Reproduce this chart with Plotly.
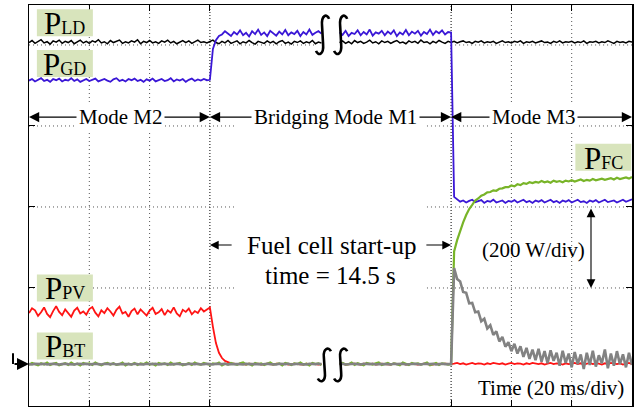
import plotly.graph_objects as go

# ---------------------------------------------------------------------------
# Oscilloscope capture: 20 ms/div time base, 200 W/div power scale.
# Samples every 1 ms; the M1 segment is cut (None) where the 14.5 s gap is.
# ---------------------------------------------------------------------------
t_ms = list(range(0, 201))

p_ld = [
    806, 811, 804, 809, 813, 805, 808, 802, 810, 807, 812, 804, 809, 806, 811, 803, 808, 812, 805, 809,
    804, 810, 807, 813, 805, 808, 803, 811, 806, 809, 812, 804, 808, 805, 810, 807, 813, 803, 809, 806,
    811, 805, 808, 804, 810, 807, 812, 805, 809, 803, 808, 811, 806, 810, 804, 809, 812, 806, 808, 805,
    808, 812, 806, 803, 809, 805, 811, 804, 807, 810, 803, 808, 805, 811, 806, 802, 809, 807, 804, 810,
    805, 809, 803, 808, 811, 804, 807, 802, 809, 806, 810, 804, 808, 805, 811, 803, 807, 805,
    None, None, None, None, None,
    806, 810, 804, 808, 803, 811, 806, 809, 804, 807, 812, 805, 808, 803, 810, 806, 809,
    804, 808, 811, 805, 807, 803, 810, 806, 809, 804, 812, 806, 808, 803, 809, 805, 811, 807, 804, 809,
    806, 809, 805, 808, 810, 806, 808, 804, 809, 807, 810, 805, 808, 806, 809, 804, 808, 810, 806, 808,
    805, 809, 807, 810, 804, 808, 806, 809, 805, 808, 810, 806, 807, 804, 809, 806, 810, 805, 808, 807,
    809, 805, 808, 806, 810, 804, 808, 807, 809, 805, 808, 806, 810, 807, 804, 809, 806, 808, 805, 809, 807,
]

p_gd = [
    712, 716, 710, 715, 718, 711, 714, 709, 716, 713, 717, 710, 714, 712, 718, 711, 715, 709, 713, 716,
    711, 714, 717, 710, 713, 716, 712, 709, 715, 718, 711, 714, 710, 716, 713, 717, 711, 714, 709, 715,
    712, 717, 710, 714, 716, 711, 713, 718, 710, 715, 712, 716, 709, 714, 717, 711, 715, 712, 716, 713,
    714, 790, 812, 822, 826, 834, 828, 822, 832, 826, 836, 824, 830, 821, 834, 827, 838, 825, 831, 822,
    835, 828, 823, 833, 826, 837, 824, 831, 827, 835, 822, 832, 826, 838, 825, 830, 834, 828,
    None, None, None, None, None,
    831, 825, 835, 822, 830, 827, 836, 824, 832, 826, 838, 823, 831, 828, 835, 824, 833,
    827, 836, 822, 831, 826, 837, 824, 833, 828, 835, 823, 832, 827, 838, 825, 834, 829, 836, 826, 832,
    831, 425, 418, 413, 416, 411, 415, 418, 412, 414, 417, 410, 415, 413, 418, 411, 414, 416, 410, 415,
    413, 417, 411, 414, 418, 412, 415, 410, 416, 413, 417, 411, 414, 418, 412, 415, 410, 416, 413, 417,
    411, 415, 418, 412, 414, 410, 416, 413, 417, 411, 415, 418, 412, 414, 416, 411, 415, 418, 413, 416, 419,
]

p_pv = [
    138, 150, 145, 131, 140, 152, 136, 128, 143, 155, 141, 133, 147, 139, 129, 144, 151, 137, 142, 134,
    148, 153, 139, 130, 145, 138, 150, 142, 132, 146, 154, 137, 141, 129, 143, 149, 135, 147, 140, 132,
    144, 151, 136, 140, 148, 133, 145, 139, 152, 137, 130, 146, 141, 149, 135, 143, 138, 150, 142, 147,
    152, 104, 64, 40, 27, 20, 16, 14, 13, 12, 13, 12, 11, 13, 12, 12, 13, 11, 12, 13,
    12, 11, 13, 12, 12, 13, 11, 12, 13, 12, 12, 11, 13, 12, 13, 12, 11, 12,
    None, None, None, None, None,
    12, 13, 11, 12, 12, 13, 12, 11, 13, 12, 12, 13, 11, 12, 13, 12, 12,
    11, 13, 12, 12, 13, 11, 12, 13, 12, 11, 12, 13, 12, 12, 11, 13, 12, 12, 13, 12,
    12, 13, 15, 12, 14, 11, 13, 15, 12, 14, 13, 11, 14, 12, 15, 13, 12, 14, 11, 13,
    15, 12, 14, 13, 11, 14, 12, 15, 13, 12, 14, 11, 13, 15, 12, 14, 13, 11, 14, 12,
    13, 15, 12, 14, 11, 13, 15, 12, 14, 13, 11, 14, 12, 15, 13, 12, 14, 11, 13, 15, 12,
]

p_fc = [
    10, 15, 12, 9, 14, 11, 16, 10, 13, 15, 9, 12, 14, 10, 16, 11, 13, 9, 15, 12,
    14, 10, 16, 12, 9, 13, 15, 11, 14, 10, 12, 16, 9, 13, 11, 15, 10, 14, 12, 16,
    11, 13, 9, 15, 12, 14, 10, 16, 11, 13, 15, 9, 12, 14, 10, 16, 12, 11, 15, 13,
    10, 14, 12, 16, 9, 13, 11, 15, 12, 10, 14, 16, 11, 13, 9, 15, 12, 14, 10, 13,
    16, 11, 12, 14, 9, 15, 13, 10, 14, 12, 16, 11, 13, 9, 15, 12, 14, 10,
    None, None, None, None, None,
    13, 15, 11, 12, 16, 10, 14, 12, 9, 15, 13, 11, 14, 16, 10, 12, 15,
    11, 14, 12, 9, 16, 13, 10, 15, 12, 14, 11, 13, 16, 9, 12, 15, 10, 14, 13, 11,
    12, 290, 318, 343, 362, 380, 395, 405, 416, 421, 428, 431, 436, 437, 441, 440, 445, 446, 449, 449,
    453, 451, 456, 454, 459, 457, 461, 459, 462, 460, 464, 461, 463, 460, 465, 462, 464, 461, 465, 463,
    466, 463, 465, 468, 464, 467, 465, 469, 466, 468, 470, 467, 469, 471, 468, 472, 469, 471, 473, 470, 474,
]

p_bt = [
    12, 11, 13, 12, 12, 13, 11, 12, 13, 12, 11, 12, 13, 12, 12, 11, 13, 12, 12, 13,
    11, 12, 13, 12, 11, 13, 12, 12, 13, 11, 12, 12, 13, 12, 11, 13, 12, 12, 11, 13,
    12, 12, 13, 11, 12, 13, 12, 11, 12, 13, 12, 12, 11, 13, 12, 12, 13, 11, 12, 13,
    12, 11, 13, 12, 12, 13, 11, 12, 12, 13, 12, 11, 13, 12, 12, 13, 12, 11, 12, 13,
    12, 12, 11, 13, 12, 12, 13, 11, 12, 13, 12, 12, 11, 13, 12, 12, 13, 12,
    None, None, None, None, None,
    12, 13, 11, 12, 12, 13, 12, 11, 13, 12, 12, 13, 11, 12, 12, 13, 12,
    11, 13, 12, 12, 13, 11, 12, 12, 13, 12, 11, 13, 12, 12, 13, 11, 12, 13, 12, 12,
    12, 249, 222, 216, 190, 188, 162, 163, 140, 142, 118, 124, 100, 108, 84, 93, 68, 79, 55, 66,
    44, 62, 38, 56, 30, 52, 25, 48, 22, 50, 18, 44, 14, 46, 20, 40, 8, 45, 15, 38,
    4, 42, 12, 36, 0, 40, 10, 45, 6, 34, 14, 48, 2, 38, 8, 44, 12, 36, 4, 40, 10,
]

for _name, _vals in (("p_ld", p_ld), ("p_gd", p_gd), ("p_pv", p_pv), ("p_fc", p_fc), ("p_bt", p_bt)):
    assert len(_vals) == len(t_ms), (_name, len(_vals))

# Operating modes: (label, start ms, end ms, label centre ms)
modes = [("Mode M2", 0, 60, 30.2), ("Bridging Mode M1", 60, 140, 101.7), ("Mode M3", 140, 200, 167.2)]

# Channel tags: (subscript, x ms, y W)
tags = [("LD", 11.9, 855), ("GD", 11.9, 754), ("PV", 11.9, 200), ("BT", 11.9, 57), ("FC", 190.5, 523)]

X_RANGE = [0, 200]
Y_RANGE = [-91.4, 898.7]
W, H = 642, 407
M_L, M_R, M_T, M_B = 29, 10, 5, 1
PX_PER_MS = (W - M_L - M_R) / (X_RANGE[1] - X_RANGE[0])
PX_PER_W = (H - M_T - M_B) / (Y_RANGE[1] - Y_RANGE[0])

SERIF = "Liberation Serif, Times New Roman, serif"

fig = go.Figure()

styles = [
    (p_ld, "#000000", 1.5),
    (p_gd, "#3a17d6", 1.8),
    (p_pv, "#ff1414", 1.8),
    (p_fc, "#78b428", 2.2),
    (p_bt, "#828282", 2.6),
]
for vals, color, width in styles:
    fig.add_trace(go.Scatter(x=t_ms, y=vals, mode="lines",
                             line=dict(color=color, width=width),
                             hoverinfo="skip", showlegend=False))

# Dotted graticule
grid = dict(color="#555555", width=1, dash="1px,3px")
for xv in (20, 40, 160, 180):
    fig.add_shape(type="line", xref="x", yref="paper", x0=xv, x1=xv, y0=0, y1=1,
                  line=grid, layer="below")
for xv in (60, 140):
    fig.add_shape(type="line", xref="x", yref="paper", x0=xv, x1=xv, y0=0, y1=1,
                  line=dict(color="#000000", width=1, dash="1px,2px"), layer="below")
for yv in (200, 400, 600):
    for x0, x1 in ((0, 68), (132, 200)):
        fig.add_shape(type="line", xref="x", yref="y", x0=x0, x1=x1, y0=yv, y1=yv,
                      line=grid, layer="below")
for x0, x1 in ((0, 95), (140, 200)):
    fig.add_shape(type="line", xref="x", yref="y", x0=x0, x1=x1, y0=800, y1=800,
                  line=grid, layer="below")


def to_data(xc, yc, dx, dy):
    return xc + dx / PX_PER_MS, yc - dy / PX_PER_W


def break_mark(xc, yc, h):
    # integral-shaped stroke marking the cut in the time axis (offsets in px)
    pts = [(7, -0.8 * h), (5, -1.08 * h), (-1, -1.0 * h), (0, -0.45 * h),
           (1, 0.45 * h), (2, 1.0 * h), (-4, 1.08 * h), (-6, 0.8 * h)]
    d = [to_data(xc, yc, dx, dy) for dx, dy in pts]
    f = lambda p: f"{p[0]:.3f},{p[1]:.3f}"
    return (f"M {f(d[0])} C {f(d[1])} {f(d[2])} {f(d[3])} "
            f"L {f(d[4])} C {f(d[5])} {f(d[6])} {f(d[7])}")


for xc, yc, h in ((97.2, 825, 20), (103.2, 825, 20), (97.8, 10, 17), (103.2, 10, 17)):
    fig.add_shape(type="path", xref="x", yref="y", path=break_mark(xc, yc, h),
                  line=dict(color="#000000", width=2.6), layer="above")

# Channel-ground marker on the left edge
fig.add_shape(type="line", xref="paper", yref="y", x0=-16 / 603, x1=-16 / 603, y0=39, y1=12.3,
              line=dict(color="#000000", width=2))

# Pale green plates behind the channel tags (56 x 27 px)
for sub, x, y in tags:
    x0, y0 = to_data(x, y, -28, 13.5)
    x1, y1 = to_data(x, y, 28, -13.5)
    fig.add_shape(type="rect", xref="x", yref="y", x0=x0, x1=x1, y0=y0, y1=y1,
                  fillcolor="#d8e4bc", line=dict(width=0), layer="above")

ann = []


def arrow(x_tip, y_tip, x_tail, y_tail, width=1.2, size=1.7, both=False):
    ann.append(dict(x=x_tip, y=y_tip, ax=x_tail, ay=y_tail, xref="x", yref="y",
                    axref="x", ayref="y", text="", showarrow=True, arrowhead=2,
                    arrowsize=size, arrowwidth=width, arrowcolor="#000000",
                    arrowside="end+start" if both else "end", startarrowhead=2,
                    startarrowsize=size))


def label(text, x, y, size, bg=None, xanchor="center"):
    d = dict(x=x, y=y, xref="x", yref="y", text=text, showarrow=False,
             font=dict(family=SERIF, size=size, color="#000000"), xanchor=xanchor)
    if bg:
        d.update(bgcolor=bg, borderpad=2)
    ann.append(d)


MODE_Y = 622
for name, a, b, c in modes:
    arrow(a, MODE_Y, c, MODE_Y)
    arrow(b, MODE_Y, c, MODE_Y)
for name, a, b, c in modes:
    label(name, c, MODE_Y, 21, bg="#ffffff")

# Fuel cell start-up bracket
arrow(60, 306, 67.7, 306, width=1.1, size=1.6)
arrow(140, 306, 131.3, 306, width=1.1, size=1.6)
label("Fuel cell start-up", 100.2, 306, 25)
label("time = 14.5 s", 100, 232, 25)

# Scale annotations
arrow(186.4, 200, 186.4, 400, width=1.1, size=1.6, both=True)
label("(200 W/div)", 167.2, 294, 21)
label("Time (20 ms/div)", 173, -47, 21)

# Ground arrow
ann.append(dict(x=0, y=12.3, xref="paper", yref="y", ax=-16, ay=0, text="", showarrow=True,
                arrowhead=2, arrowsize=1.2, arrowwidth=2, arrowcolor="#000000"))

# Channel tags: large P with small-capital subscript sharing the baseline
for sub, x, y in tags:
    ann.append(dict(x=x, y=y, xref="x", yref="y", showarrow=False,
                    text=f"P<span style=\"font-size:18px\">{sub}</span>",
                    font=dict(family=SERIF, size=31, color="#000000"),
                    yshift=-1))

fig.update_layout(
    width=W, height=H,
    margin=dict(l=M_L, r=M_R, t=M_T, b=M_B),
    paper_bgcolor="#ffffff", plot_bgcolor="#ffffff",
    showlegend=False, hovermode=False,
    annotations=ann,
)
fig.update_xaxes(range=X_RANGE, showgrid=False, zeroline=False, showticklabels=False,
                 showline=True, linecolor="#000000", linewidth=1.5, mirror="ticks",
                 ticks="inside", ticklen=6, tickcolor="#000000",
                 tickvals=[0, 20, 40, 60, 140, 160, 180, 200])
fig.update_yaxes(range=Y_RANGE, showgrid=False, zeroline=False, showticklabels=False,
                 showline=True, linecolor="#000000", linewidth=1.5, mirror="ticks",
                 ticks="inside", ticklen=6, tickcolor="#000000",
                 tickvals=[200, 400, 600])

fig.write_html("out.html", config={"displayModeBar": False, "staticPlot": True})
